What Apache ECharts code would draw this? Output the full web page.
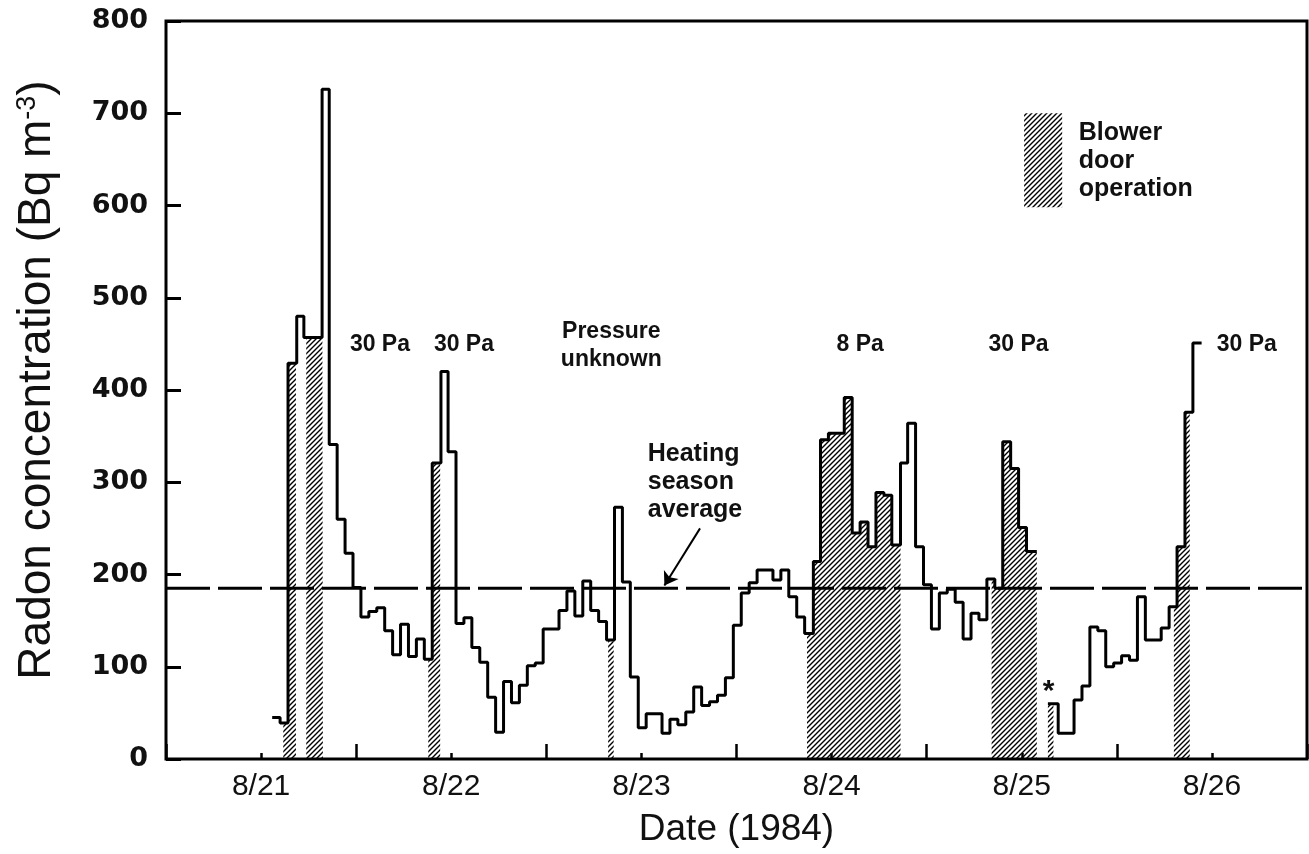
<!DOCTYPE html>
<html><head><meta charset="utf-8">
<script src="https://cdn.jsdelivr.net/npm/echarts@6/dist/echarts.min.js"></script>
<style>html,body{margin:0;padding:0;background:#fff}#c{width:1309px;height:854px}</style>
</head><body><div id="c"></div>
<script>
// ---------- data (x in hours after 8/21 00:00, y in Bq m^-3) ----------
const dayLabels = ['8/21', '8/22', '8/23', '8/24', '8/25', '8/26'];

const run1Hours = [1.4, 2.4, 3.4, 4.5, 5.4, 7.7, 8.6, 9.6, 10.6, 11.6, 12.6, 13.6, 14.6, 15.6, 16.6, 17.6, 18.6, 19.6, 20.6, 21.6,
  22.7, 23.6, 24.6, 25.6, 26.6, 27.6, 28.6, 29.6, 30.6, 31.6, 32.6, 33.6, 34.6, 35.6, 37.6, 38.6, 39.6, 40.6, 41.6, 42.6,
  43.6, 44.6, 45.6, 46.6, 47.6, 48.6, 50.6, 51.6, 52.6, 53.6, 54.6, 55.6, 56.6, 57.6, 58.6, 59.6, 60.6, 61.6, 62.6, 64.6,
  65.6, 66.6, 67.6, 68.6, 69.7, 70.6, 71.6, 73.6, 74.6, 75.6, 76.6, 77.6, 78.6, 79.6, 80.7, 81.6, 82.6, 83.6, 84.6, 85.6,
  86.6, 87.6, 88.6, 89.6, 90.6, 91.6, 92.6, 93.6, 94.6, 95.6, 96.6, 97.9];
const run1Values = [45, 39, 429, 480, 457, 726, 341, 260, 223, 186, 154, 160, 164, 139, 113, 146, 111, 130, 108, 321,
  420, 333, 147, 153, 121, 105, 67, 29, 84, 61, 80, 101, 104, 141, 161, 182, 155, 193, 161, 149,
  129, 273, 192, 89, 34, 49, 28, 43, 37, 51, 78, 58, 62, 69, 88, 145, 180, 191, 205, 194,
  205, 176, 154, 136, 214, 346, 353, 392, 245, 257, 230, 289, 286, 232, 321, 364, 230, 189, 141, 180,
  184, 170, 130, 158, 151, 195, 185, 344, 315, 251, 225, 225];

const run2Hours = [99.3, 100.6, 102.6, 103.6, 104.6, 105.6, 106.6, 107.6, 108.6, 109.6, 110.6, 111.6, 113.6, 114.6, 115.6, 116.6, 117.6, 118.7];
const run2Values = [60, 28, 64, 79, 143, 139, 100, 104, 112, 107, 176, 129, 142, 165, 230, 376, 451, 451];

const blowerStart = [2.8, 5.7, 21.1, 43.8, 68.9, 92.2, 99.3, 115.2];
const blowerEnd   = [4.4, 7.8, 22.6, 44.5, 80.7, 97.9, 100.0, 117.2];

const heatingSeasonAverage = 185;

const annotationTexts  = ['30 Pa', '30 Pa', 'Pressure\nunknown', '8 Pa', '30 Pa', '30 Pa'];
const annotationHours  = [15.0, 25.6, 44.2, 75.6, 95.6, 124.4];
const annotationValues = [449, 449, 448, 449, 449, 449];

// ---------- helpers ----------
function makeHatch() {
  const n = 5;
  const c = document.createElement('canvas');
  c.width = n; c.height = n;
  const g = c.getContext('2d');
  g.strokeStyle = '#000'; g.lineWidth = 1.4;
  g.beginPath();
  g.moveTo(0, n); g.lineTo(n, 0);
  g.moveTo(-n / 2, n / 2); g.lineTo(n / 2, -n / 2);
  g.moveTo(n / 2, n * 1.5); g.lineTo(n * 1.5, n / 2);
  g.stroke();
  return c;
}
const hatchFill = { image: makeHatch(), repeat: 'repeat' };

const runs = [[run1Hours, run1Values], [run2Hours, run2Values]];
function valueAt(h) {
  for (const [hs, vs] of runs) {
    if (h >= hs[0] && h <= hs[hs.length - 1]) {
      let v = vs[0];
      for (let i = 0; i < hs.length; i++) if (hs[i] <= h) v = vs[i];
      return v;
    }
  }
  return 0;
}
function hatchData(a, b) {
  const pts = [[a, valueAt(a)]];
  for (const [hs] of runs) for (const s of hs) if (s > a && s < b) pts.push([s, valueAt(s)]);
  pts.push([b, valueAt(b - 1e-6)]);
  return pts;
}
const zip = (hs, vs) => hs.map((h, i) => [h, vs[i]]);

const FONT = '"Liberation Sans", Arial, Helvetica, sans-serif';

const hatchSeries = blowerStart.map((a, i) => ({
  type: 'line', step: 'end', symbol: 'none', silent: true, z: 1,
  data: hatchData(a, blowerEnd[i]),
  lineStyle: { width: 0, opacity: 0 },
  areaStyle: { color: hatchFill, opacity: 1 }
}));

const chart = echarts.init(document.getElementById('c'), null, { renderer: 'canvas' });
chart.setOption({
  animation: false,
  backgroundColor: '#fff',
  grid: { left: 166, right: 2, top: 21, bottom: 95, show: true, borderColor: '#000', borderWidth: 3,
          containLabel: false, outerBoundsMode: 'none' },
  xAxis: [{
    type: 'value', min: -12, max: 132, interval: 12,
    axisLine: { show: false, onZero: false },
    axisTick: { show: true, inside: true, length: 6, lineStyle: { color: '#000', width: 2.5 } },
    splitLine: { show: false },
    axisLabel: {
      margin: 13, color: '#111', fontSize: 30, fontFamily: FONT,
      formatter: v => (v >= 0 && v % 24 === 0) ? (dayLabels[v / 24] || '') : ''
    },
    name: 'Date (1984)', nameLocation: 'middle', nameGap: 52,
    nameTextStyle: { fontSize: 37, fontFamily: FONT, color: '#111' }
  }, {
    type: 'value', min: -12, max: 132, interval: 24, position: 'bottom',
    axisLine: { show: false, onZero: false },
    axisTick: { show: true, inside: true, length: 15, lineStyle: { color: '#000', width: 2.5 } },
    axisLabel: { show: false }, splitLine: { show: false }
  }],
  yAxis: {
    type: 'value', min: 0, max: 800, interval: 100, position: 'left',
    axisLine: { show: false, onZero: false },
    axisTick: { show: true, inside: true, length: 15, lineStyle: { color: '#000', width: 3 } },
    splitLine: { show: false },
    axisLabel: { margin: 18, color: '#111', fontSize: 27, fontWeight: 'bold', fontFamily: '"DejaVu Sans", sans-serif' },
    name: 'Radon concentration (Bq m{sup|-3})', nameLocation: 'middle', nameGap: 106, nameRotate: 90,
    nameTextStyle: {
      fontSize: 46, fontFamily: FONT, color: '#111', padding: [0, 0, 0, 20],
      rich: { sup: { fontSize: 27, fontFamily: FONT, color: '#111', verticalAlign: 'top', padding: [0, 0, 14, 0] } }
    }
  },
  series: [
    ...hatchSeries,
    {
      type: 'line', step: 'end', symbol: 'none', z: 3,
      data: zip(run1Hours, run1Values),
      lineStyle: { color: '#000', width: 3 }
    },
    {
      type: 'line', step: 'end', symbol: 'none', z: 3,
      data: zip(run2Hours, run2Values),
      lineStyle: { color: '#000', width: 3 }
    },
    {
      type: 'line', symbol: 'none', z: 2,
      data: [[-12, heatingSeasonAverage], [132, heatingSeasonAverage]],
      lineStyle: { color: '#000', width: 3, type: [44, 8] },
      markLine: {
        silent: true, symbol: ['none', 'arrow'], symbolSize: 13,
        label: { show: false },
        lineStyle: { color: '#000', width: 2, type: 'solid' },
        data: [[{ coord: [55.4, 250] }, { coord: [50.9, heatingSeasonAverage + 3] }]]
      }
    }
  ]
});

// ---------- annotations placed through the chart's own scales ----------
const P = (x, y) => chart.convertToPixel({ seriesIndex: hatchSeries.length }, [x, y]);
const graphics = [];
annotationTexts.forEach((t, i) => {
  const [px, py] = P(annotationHours[i], annotationValues[i]);
  graphics.push({
    type: 'text', x: px, y: py, z: 10,
    style: { text: t, font: 'bold 23px ' + FONT, fill: '#111', align: 'center', verticalAlign: 'middle',
             textAlign: 'center', textVerticalAlign: 'middle', lineHeight: 28 }
  });
});
{
  const [px, py] = P(48.8, 300);
  graphics.push({ type: 'text', x: px, y: py, z: 10,
    style: { text: 'Heating\nseason\naverage', font: 'bold 25px ' + FONT, fill: '#111', align: 'left',
             verticalAlign: 'middle', textAlign: 'left', textVerticalAlign: 'middle', lineHeight: 28 } });
}
{
  const [px, py] = P(99.4, 73);
  graphics.push({ type: 'text', x: px, y: py, z: 10,
    style: { text: '*', font: 'bold 30px ' + FONT, fill: '#111', align: 'center', verticalAlign: 'middle',
             textAlign: 'center', textVerticalAlign: 'middle' } });
}
{
  const [x0, y0] = P(96.3, 700);
  const [x1, y1] = P(101.1, 598);
  graphics.push({ type: 'rect', z: 10, shape: { x: x0, y: y0, width: x1 - x0, height: y1 - y0 },
    style: { fill: hatchFill, stroke: null } });
  const [tx, ty] = P(103.2, 648);
  graphics.push({ type: 'text', x: tx, y: ty, z: 10,
    style: { text: 'Blower\ndoor\noperation', font: 'bold 25px ' + FONT, fill: '#111', align: 'left',
             verticalAlign: 'middle', textAlign: 'left', textVerticalAlign: 'middle', lineHeight: 28 } });
}
chart.setOption({ graphic: graphics });
</script>
</body></html>
